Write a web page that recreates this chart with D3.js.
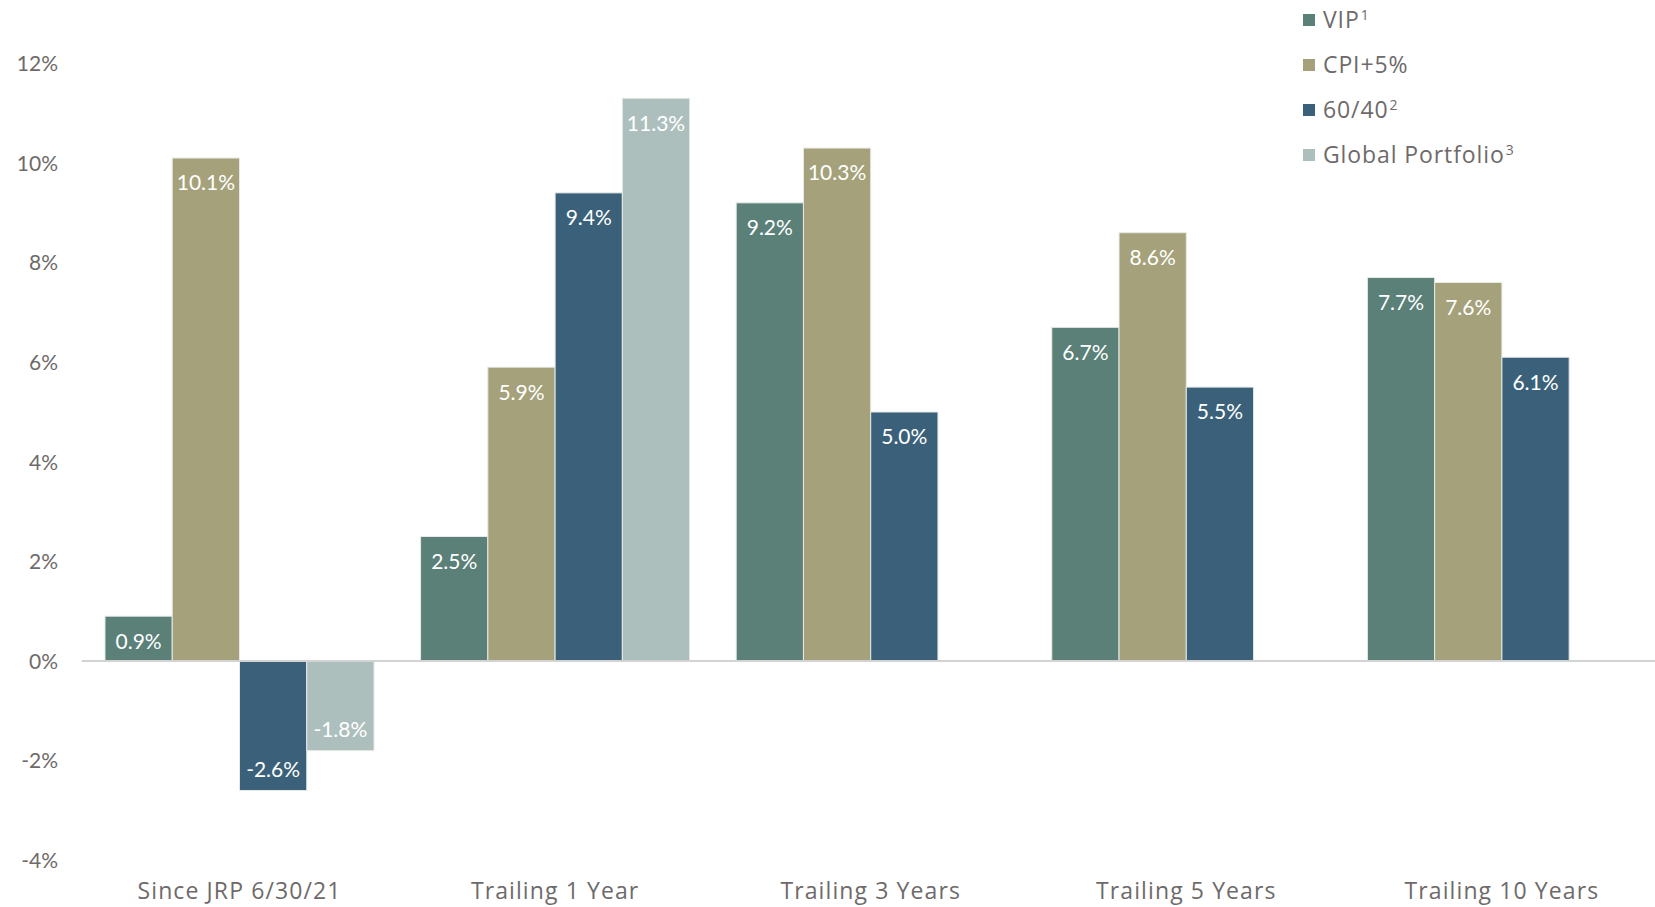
<!DOCTYPE html>
<html>
<head>
<meta charset="utf-8">
<script src="https://cdn.jsdelivr.net/npm/d3@7"></script>
<style>
  html, body { margin: 0; padding: 0; background: #ffffff; }
  svg { display: block; }
  text { font-family: Lato, "Open Sans", sans-serif; }
  .wide { font-family: "Open Sans", Lato, sans-serif; }
</style>
</head>
<body>
<svg id="chart" width="1655" height="907"></svg>
<script>
// Return periods shown along the x axis
const categories = ["Since JRP 6/30/21", "Trailing 1 Year", "Trailing 3 Years", "Trailing 5 Years", "Trailing 10 Years"];

// Series names, superscript footnote markers and colours
const seriesNames = ["VIP", "CPI+5%", "60/40", "Global Portfolio"];
const seriesNotes = ["1", "", "2", "3"];
const seriesColors = ["#5a8078", "#a5a27b", "#3a6179", "#adbfbc"];

// Annualised returns (%) per series; null where no figure is reported
const vipValues    = [0.9, 2.5, 9.2, 6.7, 7.7];
const cpiValues    = [10.1, 5.9, 10.3, 8.6, 7.6];
const sixtyFortyValues = [-2.6, 9.4, 5.0, 5.5, 6.1];
const globalValues = [-1.8, 11.3, null, null, null];

// Y axis ticks
const yTicks = [-4, -2, 0, 2, 4, 6, 8, 10, 12];

const seriesValues = [vipValues, cpiValues, sixtyFortyValues, globalValues];

const svg = d3.select("#chart");

const y = d3.scaleLinear().domain([-4, 12]).range([860.2, 63.4]);

const x0 = d3.scaleBand()
  .domain(categories)
  .range([81.7, 1659.7])
  .paddingInner(0.1476)
  .paddingOuter(0.0738);

const x1 = d3.scaleBand()
  .domain(d3.range(seriesNames.length))
  .range([0, x0.bandwidth()])
  .padding(0);

// Flatten into bar records
const bars = [];
categories.forEach((c, ci) => {
  seriesValues.forEach((vals, si) => {
    const v = vals[ci];
    if (v !== null && v !== undefined) bars.push({ cat: c, s: si, v });
  });
});

// Y axis labels
const yAxis = d3.axisLeft(y)
  .tickValues(yTicks)
  .tickSize(0)
  .tickPadding(0)
  .tickFormat(d => d + "%");

svg.append("g")
  .attr("transform", "translate(58,0)")
  .call(yAxis)
  .call(g => g.select(".domain").remove())
  .call(g => g.selectAll("text")
    .attr("fill", "#6e6a6a")
    .attr("font-family", "Lato, sans-serif")
    .attr("font-size", 21)
    .attr("dy", "0.35em"));

// Bars
svg.append("g")
  .selectAll("rect")
  .data(bars)
  .join("rect")
  .attr("x", d => x0(d.cat) + x1(d.s))
  .attr("width", x1.bandwidth())
  .attr("y", d => y(Math.max(0, d.v)))
  .attr("height", d => Math.abs(y(d.v) - y(0)))
  .attr("fill", d => seriesColors[d.s])
  .attr("stroke", "#e6e9e6")
  .attr("stroke-width", 1);

// Zero line
svg.append("line")
  .attr("x1", x0.range()[0])
  .attr("x2", 1655)
  .attr("y1", y(0))
  .attr("y2", y(0))
  .attr("stroke", "#d3d3d3")
  .attr("stroke-width", 2);

// Value labels inside bar ends
svg.append("g")
  .selectAll("text")
  .data(bars)
  .join("text")
  .attr("x", d => x0(d.cat) + x1(d.s) + x1.bandwidth() / 2)
  .attr("y", d => d.v >= 0 ? y(d.v) + 25 : y(d.v) - 21)
  .attr("dy", "0.35em")
  .attr("text-anchor", "middle")
  .attr("fill", "#ffffff")
  .attr("font-size", 21)
  .text(d => d.v.toFixed(1) + "%");

// Category labels
const xAxis = d3.axisBottom(x0).tickSize(0).tickPadding(0);
svg.append("g")
  .attr("transform", "translate(0,891)")
  .call(xAxis)
  .call(g => g.select(".domain").remove())
  .call(g => g.selectAll("text")
    .attr("class", "wide")
    .attr("fill", "#6e6a6a")
    .attr("font-family", null)
    .attr("font-size", 23)
    .attr("letter-spacing", 1.1)
    .attr("y", 0)
    .attr("dy", "0.35em"));

// Legend
const legend = svg.append("g").attr("transform", "translate(1303,0)");
const items = legend.selectAll("g")
  .data(seriesNames)
  .join("g")
  .attr("transform", (d, i) => `translate(0,${20 + i * 45})`);

items.append("rect")
  .attr("x", 0)
  .attr("y", -6)
  .attr("width", 12)
  .attr("height", 12)
  .attr("fill", (d, i) => seriesColors[i]);

const lt = items.append("text")
  .attr("class", "wide")
  .attr("x", 20)
  .attr("y", 0)
  .attr("dy", "0.36em")
  .attr("fill", "#6e6a6a")
  .attr("font-size", 23)
  .attr("letter-spacing", 0.9);
lt.append("tspan").text(d => d);
lt.append("tspan")
  .attr("font-size", 14)
  .attr("dx", 1)
  .attr("dy", "-0.6em")
  .text((d, i) => seriesNotes[i]);
</script>
</body>
</html>
